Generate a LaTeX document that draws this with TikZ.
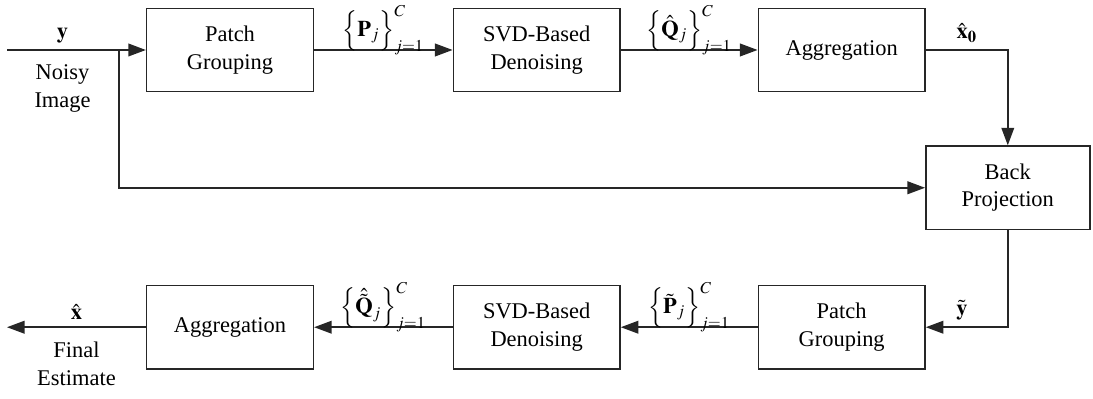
\documentclass[tikz,border=0pt]{standalone}
\usepackage{mathptmx}
\usepackage{fontspec}
\setmainfont{Liberation Serif}
\newfontfamily\timesfont{Liberation Serif}
\usetikzlibrary{arrows.meta}

\begin{document}
\begin{tikzpicture}[
    box/.style={rectangle, draw=black!85, line width=0.8pt, minimum width=3.0cm, minimum height=1.5cm, align=center, font=\timesfont\fontsize{11.5}{14}\selectfont},
    lab/.style={align=center, font=\timesfont\fontsize{11.5}{14}\selectfont},
    setlab/.style={lab, anchor=south, inner sep=0pt, yshift=-3pt},
    arrow/.style={-{Triangle[length=9pt, width=6.5pt]}, line width=0.8pt, draw=black!85}
]

\useasboundingbox (0,0) rectangle (19.674,-7.182);

% Top row
\node[box] (pg1) at (4.14,-0.9) {Patch\\Grouping};
\node[box] (svd1) at (9.66,-0.9) {SVD-Based\\Denoising};
\node[box] (agg1) at (15.15,-0.9) {Aggregation};

% Back projection
\node[box, minimum width=2.95cm] (bp) at (18.14,-3.38) {Back\\Projection};

% Bottom row
\node[box] (pg2) at (15.15,-5.89) {Patch\\Grouping};
\node[box] (svd2) at (9.66,-5.89) {SVD-Based\\Denoising};
\node[box] (agg2) at (4.14,-5.89) {Aggregation};

% End points
\coordinate (in) at (0.126,-0.9);
\coordinate (br) at (2.142,-0.9);
\coordinate (out) at (0.126,-5.89);

% Arrows
\draw[arrow] (in) -- node[lab, pos=0.4, above] (ly) {$\mathbf{y}$}
    node[lab, pos=0.4, below=4pt] (lnoisy) {Noisy\\Image} (pg1);
\draw[arrow] (br) |- (bp);
\draw[arrow] (pg1) -- node[setlab] (lp) {$\Big\{\mathbf{P}_j\Big\}_{j=1}^{C}$} (svd1);
\draw[arrow] (svd1) -- node[setlab] (lq) {$\Big\{\hat{\mathbf{Q}}_j\Big\}_{j=1}^{C}$} (agg1);
\draw[arrow] (agg1) -| node[lab, pos=0.25, above] (lx0) {$\hat{\mathbf{x}}_{\mathbf{0}}$} (bp);
\draw[arrow] (bp) |- node[lab, pos=0.78, above] (lyt) {$\tilde{\mathbf{y}}$} (pg2);
\draw[arrow] (pg2) -- node[setlab] (lpt) {$\Big\{\tilde{\mathbf{P}}_j\Big\}_{j=1}^{C}$} (svd2);
\draw[arrow] (svd2) -- node[setlab] (lqt) {$\Big\{\hat{\tilde{\mathbf{Q}}}_j\Big\}_{j=1}^{C}$} (agg2);
\draw[arrow] (agg2) -- node[lab, above] (lx) {$\hat{\mathbf{x}}$}
    node[lab, below=4pt] (lfinal) {Final\\Estimate} (out);

\end{tikzpicture}
\end{document}
